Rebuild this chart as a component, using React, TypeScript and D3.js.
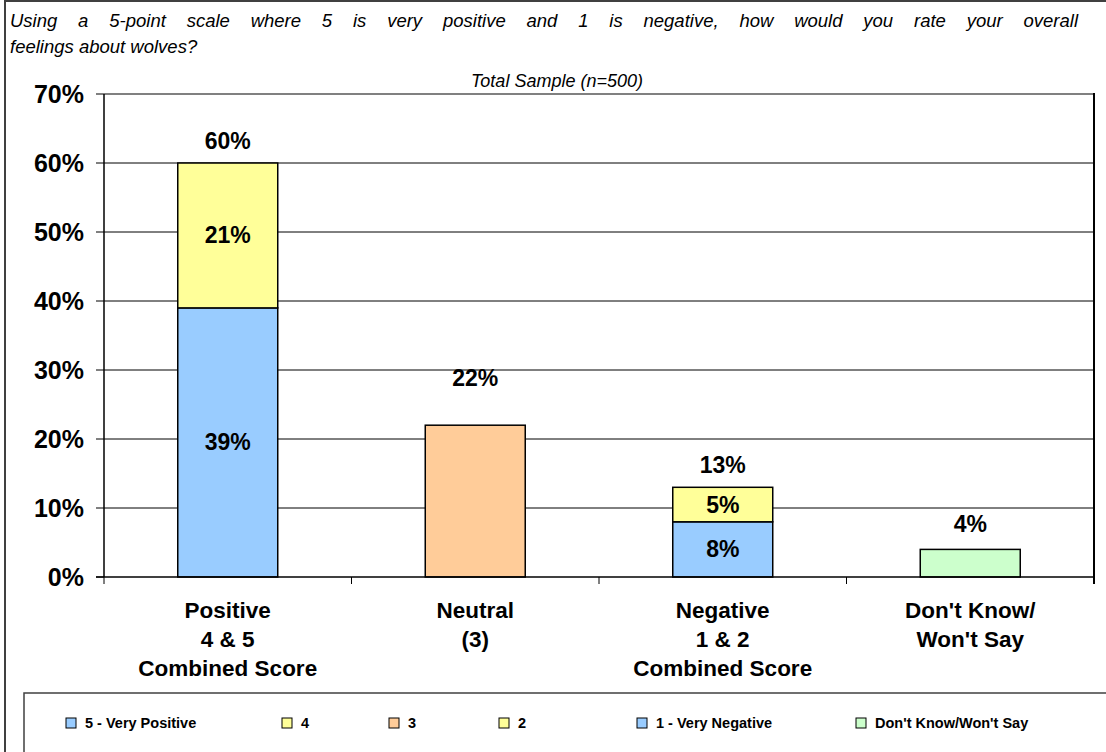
import React, { useLayoutEffect, useRef, useState } from "react";
import * as d3 from "d3";

const categories = ["Positive|4 & 5|Combined Score", "Neutral|(3)", "Negative|1 & 2|Combined Score", "Don't Know/|Won't Say"];
const seriesNames = ["5 - Very Positive", "4", "3", "2", "1 - Very Negative", "Don't Know/Won't Say"];
const veryPositive = [39, 0, 0, 0];
const four = [21, 0, 0, 0];
const three = [0, 22, 0, 0];
const two = [0, 0, 5, 0];
const veryNegative = [0, 0, 8, 0];
const dontKnow = [0, 0, 0, 4];
const yTicks = [0, 10, 20, 30, 40, 50, 60, 70];
const seriesColors = ["#99CCFF", "#FFFF99", "#FFCC99", "#FFFF99", "#99CCFF", "#CCFFCC"];
const stackOrder = ["5 - Very Positive", "1 - Very Negative", "4", "2", "3", "Don't Know/Won't Say"];
const totalLabelGap = [22, 47, 22, 25];
const legendX = [66, 282, 389, 499, 637, 856];
const titleLine1 = "Using a 5-point scale where 5 is very positive and 1 is negative, how would you rate your overall";
const titleLine2 = "feelings about wolves?";

const seriesValues = [veryPositive, four, three, two, veryNegative, dontKnow];

const FONT = "'Liberation Sans', Arial, sans-serif";

export default function App() {
  const W = 1106, H = 752;
  const left = 104, right = 1094, top = 94, bottom = 577;
  const y = d3.scaleLinear().domain([0, 70]).range([bottom, top]);
  const x = d3.scaleBand<number>().domain(categories.map((_, i) => i)).range([left, right]).paddingInner(0).paddingOuter(0);
  const bw = x.bandwidth() * 0.404;

  const titleRef = useRef<SVGTextElement>(null);
  const [wordSpacing, setWordSpacing] = useState(0);
  useLayoutEffect(() => {
    if (titleRef.current) {
      const len = titleRef.current.getComputedTextLength();
      const gaps = titleLine1.split(" ").length - 1;
      setWordSpacing(Math.max(0, (1068 - len) / gaps));
    }
  }, []);

  const rows = categories.map((_, i) => {
    const r: Record<string, number> = {};
    seriesNames.forEach((s, k) => (r[s] = seriesValues[k][i]));
    return r;
  });
  const stacked = d3.stack<Record<string, number>>().keys(stackOrder)(rows);
  const totals = categories.map((_, i) => d3.sum(seriesValues, (v) => v[i]));
  const nonZeroCount = categories.map((_, i) => seriesValues.filter((v) => v[i] > 0).length);

  return (
    <svg width={W} height={H} style={{ position: "absolute", left: 0, top: 0, background: "#fff" }} fontFamily={FONT}>
      <rect x={0} y={0} width={W} height={H} fill="#fff" />
      {/* outer frame */}
      <line x1={5} x2={5} y1={0} y2={H} stroke="#404040" strokeWidth={2} />
      <line x1={5} x2={W} y1={1} y2={1} stroke="#404040" strokeWidth={2} />

      {/* title */}
      <text ref={titleRef} x={10} y={27} fontSize={18.5} fontStyle="italic" style={{ wordSpacing: wordSpacing + "px" }}>
        {titleLine1}
      </text>
      <text x={10} y={53} fontSize={18.5} fontStyle="italic">{titleLine2}</text>
      <text x={557} y={87} fontSize={18} fontStyle="italic" textAnchor="middle">Total Sample (n=500)</text>

      {/* gridlines */}
      {yTicks.filter((t) => t > 0 && t < 70).map((t) => (
        <line key={t} x1={left} x2={right} y1={y(t)} y2={y(t)} stroke="#000" strokeWidth={1} />
      ))}
      <line x1={96} x2={right} y1={y(70)} y2={y(70)} stroke="#808080" strokeWidth={2} />
      {/* y ticks */}
      {yTicks.map((t) => (
        <g key={t}>
          <line x1={96} x2={left} y1={y(t)} y2={y(t)} stroke={t === 70 ? "#808080" : "#000"} strokeWidth={t === 70 ? 2 : 1} />
          <text x={84} y={y(t) + 8.7} fontSize={25} fontWeight="bold" textAnchor="end">{t}%</text>
        </g>
      ))}

      {/* bars */}
      {stacked.map((layer) => {
        const k = seriesNames.indexOf(layer.key);
        return layer.map((d, i) =>
          d[1] - d[0] > 0 ? (
            <rect key={layer.key + i} x={(x(i) as number) + (x.bandwidth() - bw) / 2} y={y(d[1])} width={bw} height={y(d[0]) - y(d[1])}
              fill={seriesColors[k]} stroke="#000" strokeWidth={1.5} />
          ) : null
        );
      })}
      {/* segment labels */}
      {stacked.map((layer) =>
        layer.map((d, i) =>
          d[1] - d[0] > 0 && nonZeroCount[i] > 1 ? (
            <text key={"l" + layer.key + i} x={(x(i) as number) + x.bandwidth() / 2} y={y((d[0] + d[1]) / 2) + 8} fontSize={23} fontWeight="bold" textAnchor="middle">
              {d[1] - d[0]}%
            </text>
          ) : null
        )
      )}
      {/* total labels */}
      {totals.map((t, i) => (
        <text key={"t" + i} x={(x(i) as number) + x.bandwidth() / 2} y={y(t) - totalLabelGap[i] + 8} fontSize={23} fontWeight="bold" textAnchor="middle">
          {t}%
        </text>
      ))}

      {/* axes */}
      <line x1={left} x2={left} y1={top} y2={bottom} stroke="#000" strokeWidth={1.5} />
      <line x1={96} x2={right} y1={bottom} y2={bottom} stroke="#000" strokeWidth={1.5} />
      <line x1={right} x2={right} y1={top - 1} y2={bottom + 7} stroke="#000" strokeWidth={2} />
      {categories.map((_, i) => (
        <line key={"ct" + i} x1={x(i) as number} x2={x(i) as number} y1={bottom} y2={bottom + 7} stroke="#000" strokeWidth={1} />
      ))}
      {categories.map((c, i) => (
        <text key={"c" + i} x={(x(i) as number) + x.bandwidth() / 2} fontSize={22.5} fontWeight="bold" textAnchor="middle">
          {c.split("|").map((line, j) => (
            <tspan key={j} x={(x(i) as number) + x.bandwidth() / 2} y={618 + j * 29}>{line}</tspan>
          ))}
        </text>
      ))}

      {/* legend */}
      <rect x={24} y={693} width={W} height={100} fill="#fff" stroke="#404040" strokeWidth={1.5} />
      {seriesNames.map((s, k) => (
        <g key={"lg" + k}>
          <rect x={legendX[k]} y={718} width={10} height={10} fill={seriesColors[k]} stroke="#000" strokeWidth={1} />
          <text x={legendX[k] + 19} y={728} fontSize={14.5} fontWeight="bold">{s}</text>
        </g>
      ))}
    </svg>
  );
}
